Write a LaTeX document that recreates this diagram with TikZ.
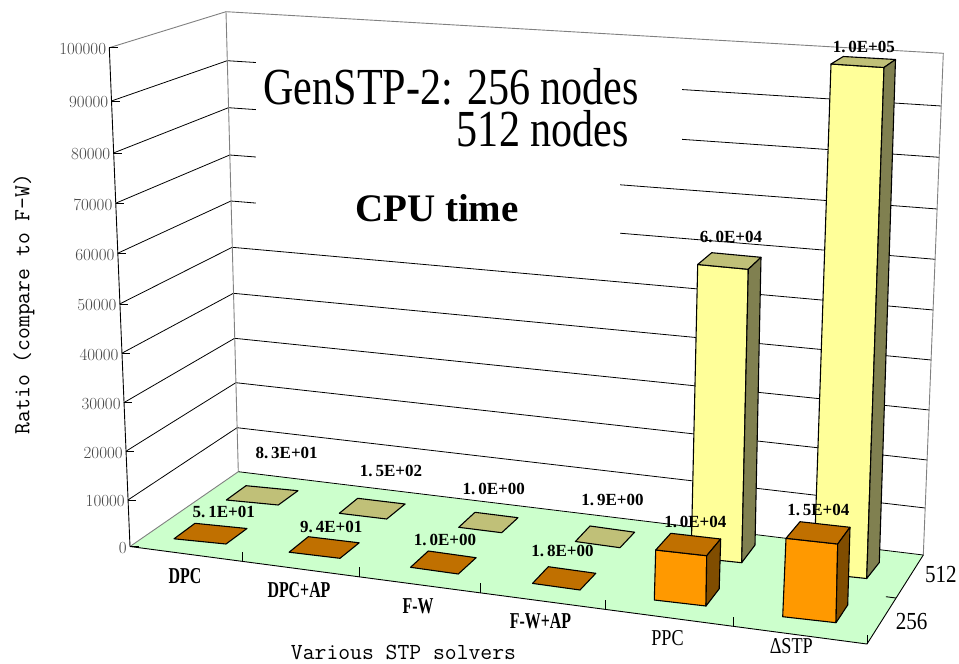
\documentclass[tikz,border=0pt]{standalone}
\usepackage{fontspec}
\newfontfamily\titlecond[FakeStretch=0.81]{Liberation Serif}
\newfontfamily\titleplain{Liberation Serif}
\newfontfamily\valfont{Liberation Serif}
\newfontfamily\catbold[FakeStretch=0.70]{Liberation Serif}
\newfontfamily\catreg[FakeStretch=0.80]{Liberation Serif}
\newfontfamily\depthfont[FakeStretch=0.86]{Liberation Serif}

\definecolor{floorgreen}{RGB}{204,255,204}
\definecolor{orfront}{RGB}{255,153,0}
\definecolor{ortop}{RGB}{192,112,0}
\definecolor{orside}{RGB}{128,77,0}
\definecolor{yefront}{RGB}{255,255,153}
\definecolor{yetop}{RGB}{192,192,120}
\definecolor{yeside}{RGB}{128,128,80}

\tikzset{
  walledge/.style={draw=black!50, line width=0.9pt},
  gridline/.style={draw=black, line width=0.8pt},
  axisline/.style={draw=black, line width=0.9pt},
  barface/.style={draw=black, line width=1.1pt, line join=round},
  vallabel/.style={inner sep=0pt, font=\valfont\bfseries\fontsize{17}{17}\selectfont},
  ticklabel/.style={inner sep=0pt, anchor=east, text=black!72, font=\rmfamily\fontsize{17}{17}\selectfont},
  catlabelb/.style={inner sep=0pt, font=\catbold\bfseries\fontsize{22.7}{23}\selectfont},
  catlabelr/.style={inner sep=0pt, font=\catreg\fontsize{22.7}{23}\selectfont},
  depthlabel/.style={inner sep=0pt, font=\depthfont\fontsize{24.5}{25}\selectfont},
  axistitle/.style={inner sep=0pt, font=\ttfamily\fontsize{23}{23}\selectfont},
  bigtitle/.style={anchor=base west, inner sep=0pt, font=\titlecond\fontsize{52}{52}\selectfont},
}

\newcommand\quadface[5]{\filldraw[barface, fill=#1] #2 -- #3 -- #4 -- #5 -- cycle;}

\begin{document}
\begin{tikzpicture}[x=1pt, y=-1pt]
\useasboundingbox (0,0) rectangle (959,664);
\fill[white] (0,0) rectangle (959,664);

% corners of the box
\coordinate (FLb) at (130,546.5);
\coordinate (FLt) at (109.3,47.7);
\coordinate (BLb) at (238.3,471.7);
\coordinate (BLt) at (226,11.7);
\coordinate (BRb) at (923.3,555);
\coordinate (BRt) at (943.3,53.3);
\coordinate (FRb) at (867,644);

% walls
\fill[white] (FLb) -- (FLt) -- (BLt) -- (BLb) -- cycle;
\fill[white] (BLb) -- (BLt) -- (BRt) -- (BRb) -- cycle;

% value levels: front axis, back-left edge, back-right edge
\foreach \i/\yf/\yb/\yr in {0/546.5/471.7/555, 1/500/427.7/508, 2/451.3/382.7/460,
    3/402.7/338.3/410, 4/353.3/293.3/360, 5/304/247.3/310, 6/253.3/201/259.3,
    7/203.3/155/209, 8/153/107.7/157.3, 9/101/60.7/106, 10/47.7/11.7/53.3} {
  \coordinate (f\i) at ({130-2.07*\i},\yf);
  \coordinate (bl\i) at ({238.3-1.23*\i},\yb);
  \coordinate (br\i) at ({923.3+2*\i},\yr);
}

% grid lines on the side wall and the back wall
\foreach \i in {1,...,9} {
  \draw[gridline] (f\i) -- (bl\i) -- (br\i);
}

% text panels over the back wall
\fill[white] (256,50) rectangle (681.7,148);
\fill[white] (256,148) rectangle (620,240);

% two-line heading: second line hangs below the first
\node[bigtitle] (title1) at (263.3,104)
  {\rlap{\hspace*{193.4pt}\raisebox{-42.7pt}[0pt][0pt]{512 nodes}}GenSTP-2: 256 nodes};
\node[anchor=base west, inner sep=0pt, font=\titleplain\bfseries\fontsize{39}{39}\selectfont] (title3) at (355,221.7) {CPU time};

% wall outlines
\draw[walledge] (FLt) -- (BLt) -- (BRt) -- (BRb);
\draw[walledge] (BLt) -- (BLb);

% floor
\fill[floorgreen] (FLb) -- (BLb) -- (BRb) -- (FRb) -- cycle;
\draw[walledge] (FLb) -- (BLb);
\draw[gridline] (BLb) -- (BRb);
\draw[axisline] (FLb) -- (FRb) -- (BRb);

% value axis with ticks and labels
\draw[axisline] (f0) -- (f10);
\foreach \i/\v in {0/0, 1/10000, 2/20000, 3/30000, 4/40000, 5/50000,
    6/60000, 7/70000, 8/80000, 9/90000, 10/100000} {
  \draw[axisline] (f\i) -- ++(8.5,0);
  \node[ticklabel] (tl\i) at ([xshift=-3pt, yshift=-1.5pt]f\i) {\v};
}

% category ticks on the front edge
\foreach \x in {242,359.3,480,605,733,867} {
  \draw[axisline] ({\x},{546.5+0.1323*(\x-130)}) -- ++(0,-9.5);
}
% depth tick on the right edge
\coordinate (dmid) at (895.9,598);
\draw[axisline] (dmid) -- ++(-10,-1.3);

% back row (512 nodes)
\quadface{yetop}{(226.3,500)}{(246,485.7)}{(298,490.7)}{(278.3,505)}
\quadface{yetop}{(339.3,513.3)}{(357.7,498.3)}{(405.1,504)}{(386.7,519)}
\quadface{yetop}{(458.7,527.3)}{(475,512.3)}{(518,517.7)}{(501.7,532.7)}
\quadface{yetop}{(575.4,541.5)}{(590,526)}{(634.6,532.2)}{(620,547.7)}
% PPC, 512
\quadface{yefront}{(691.1,557.4)}{(697.7,264.5)}{(748.3,269.3)}{(741.7,562.7)}
\quadface{yetop}{(697.7,264.5)}{(711.7,252.7)}{(761,257.3)}{(748.3,269.3)}
\quadface{yeside}{(748.3,269.3)}{(761,257.3)}{(755,545)}{(741.7,562.7)}
% Delta STP, 512
\quadface{yefront}{(813.7,573)}{(831,64)}{(884,67.5)}{(866.7,578.5)}
\quadface{yetop}{(831,64)}{(843.3,56.5)}{(895.5,59.5)}{(884,67.5)}
\quadface{yeside}{(884,67.5)}{(895.5,59.5)}{(879.3,562.5)}{(866.7,578.5)}

% front row (256 nodes)
\quadface{ortop}{(174,538.8)}{(195,523.3)}{(247,528.5)}{(226,544)}
\quadface{ortop}{(289.1,552.2)}{(308.3,536.7)}{(359.2,542.8)}{(340,558.3)}
\quadface{ortop}{(410.5,567.3)}{(428.3,551)}{(476.1,557.7)}{(458.3,574)}
\quadface{ortop}{(532.5,583.4)}{(548.3,566.7)}{(595.8,573.3)}{(580,590)}
% PPC, 256
\quadface{orfront}{(654.3,600)}{(655.7,550)}{(706.7,555.7)}{(706,606)}
\quadface{ortop}{(655.7,550)}{(670.8,533.3)}{(720.7,539)}{(706.7,555.7)}
\quadface{orside}{(706.7,555.7)}{(720.7,539)}{(719.2,588.8)}{(706,606)}
% Delta STP, 256
\quadface{orfront}{(782.7,616.7)}{(786,538.3)}{(837.7,544)}{(836,622.7)}
\quadface{ortop}{(786,538.3)}{(800,521.7)}{(850,527.3)}{(837.7,544)}
\quadface{orside}{(837.7,544)}{(850,527.3)}{(847.7,605)}{(836,622.7)}

% value labels, 512 row
\node[vallabel] (v512a) at (286.7,452.5) {8.\,3E+01};
\node[vallabel] (v512b) at (391,470.5) {1.\,5E+02};
\node[vallabel] (v512c) at (493.8,489) {1.\,0E+00};
\node[vallabel] (v512d) at (612.5,499.5) {1.\,9E+00};
\node[vallabel] (v512e) at (731,236.7) {6.\,0E+04};
\node[vallabel] (v512f) at (863.8,46.7) {1.\,0E+05};
% value labels, 256 row
\node[vallabel] (v256a) at (223.8,512.3) {5.\,1E+01};
\node[vallabel] (v256b) at (331.3,526.5) {9.\,4E+01};
\node[vallabel] (v256c) at (445,539.5) {1.\,0E+00};
\node[vallabel] (v256d) at (562.5,551) {1.\,8E+00};
\node[vallabel] (v256e) at (695.3,521.7) {1.\,0E+04};
\node[vallabel] (v256f) at (818.3,509.5) {1.\,5E+04};

% category labels
\node[catlabelb] (cat1) at (185,576) {DPC};
\node[catlabelb] (cat2) at (299,590.5) {DPC+AP};
\node[catlabelb] (cat3) at (418,606) {F-W};
\node[catlabelb] (cat4) at (540.5,621.3) {F-W+AP};
\node[catlabelr] (cat5) at (667.5,638.3) {PPC};
\node[catlabelr] (cat6) at (791.3,645.8) {ΔSTP};

% depth labels
\node[depthlabel] (d256) at (911.7,621.7) {256};
\node[depthlabel] (d512) at (940.8,575) {512};

% axis titles
\node[axistitle, rotate=90] (ytitle) at (24,304) {Ratio (compare to F-W)};
\node[axistitle] (xtitle) at (403.5,652.5) {Various STP solvers};
\end{tikzpicture}
\end{document}
